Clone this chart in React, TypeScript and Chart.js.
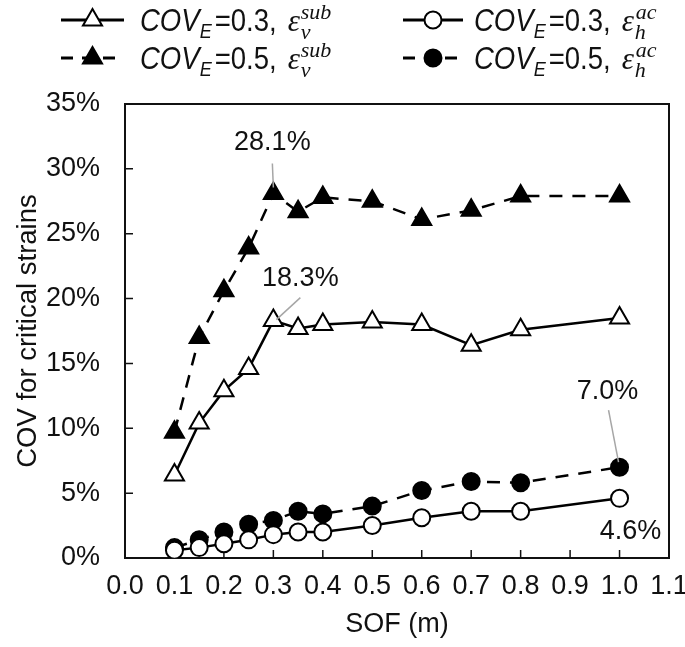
import React, { useEffect, useRef } from "react";
import { Chart, registerables } from "chart.js";
Chart.register(...registerables);

const sof = [0.1, 0.15, 0.2, 0.25, 0.3, 0.35, 0.4, 0.5, 0.6, 0.7, 0.8, 1.0];
const covV03 = [6.4, 10.4, 12.9, 14.6, 18.3, 17.7, 18.0, 18.2, 18.0, 16.4, 17.6, 18.5];
const covV05 = [9.7, 17.0, 20.6, 23.9, 28.1, 26.7, 27.8, 27.5, 26.1, 26.8, 27.9, 27.9];
const covH03 = [0.6, 0.8, 1.1, 1.4, 1.8, 2.0, 2.0, 2.5, 3.1, 3.6, 3.6, 4.6];
const covH05 = [0.8, 1.4, 2.0, 2.6, 2.9, 3.6, 3.4, 4.0, 5.2, 5.9, 5.8, 7.0];
const yTickValues = [0, 5, 10, 15, 20, 25, 30, 35];
const xTickValues = [0, 0.1, 0.2, 0.3, 0.4, 0.5, 0.6, 0.7, 0.8, 0.9, 1.0, 1.1];

const FONT = "'Liberation Sans', Arial, sans-serif";
const SERIF = "'Liberation Serif', 'DejaVu Serif', serif";

function drawMarker(ctx: CanvasRenderingContext2D, kind: string, filled: boolean, x: number, y: number, r: number) {
  ctx.beginPath();
  if (kind === "triangle") {
    let rad = 0;
    ctx.moveTo(x + Math.sin(rad) * r, y - Math.cos(rad) * r);
    rad += (2 * Math.PI) / 3;
    ctx.lineTo(x + Math.sin(rad) * r, y - Math.cos(rad) * r);
    rad += (2 * Math.PI) / 3;
    ctx.lineTo(x + Math.sin(rad) * r, y - Math.cos(rad) * r);
    ctx.closePath();
  } else {
    ctx.arc(x, y, r, 0, Math.PI * 2);
  }
  ctx.fillStyle = filled ? "#000" : "#fff";
  ctx.fill();
  ctx.lineWidth = 2;
  ctx.strokeStyle = "#000";
  ctx.stroke();
}

type Part = { t: string; font: string; dy: number; sx: number; dx?: number };

function drawRun(ctx: CanvasRenderingContext2D, x: number, y: number, parts: Part[]) {
  let cx = x;
  for (const p of parts) {
    ctx.save();
    ctx.font = p.font;
    ctx.textBaseline = "alphabetic";
    ctx.textAlign = "left";
    ctx.fillStyle = "#111";
    const w = ctx.measureText(p.t).width * p.sx;
    ctx.translate(cx + (p.dx || 0), y + p.dy);
    ctx.scale(p.sx, 1);
    ctx.fillText(p.t, 0, 0);
    ctx.restore();
    cx += w + (p.dx || 0);
  }
}

function legendParts(cov: string, sub: string, sup: string): Part[] {
  const sx = 0.86;
  return [
    { t: "COV", font: `italic 32px ${FONT}`, dy: 0, sx },
    { t: "E", font: `italic 21px ${FONT}`, dy: 7, sx },
    { t: "=" + cov + ",", font: `32px ${FONT}`, dy: 0, sx, dx: 3 },
    { t: "ε", font: `italic 31px ${SERIF}`, dy: 0, sx: 1, dx: 11 },
    { t: sub, font: `italic 22px ${SERIF}`, dy: 8, sx: 1, dx: 1 },
    { t: sup, font: `italic 22px ${SERIF}`, dy: -12, sx: 1, dx: -10 },
  ];
}

const legendPlugin = {
  id: "customLegend",
  afterDraw(chart: any) {
    const ctx: CanvasRenderingContext2D = chart.ctx;
    const rows = [
      { y: 20, items: [
        { x0: 61, x1: 124, dash: [] as number[], kind: "triangle", filled: false, tx: 140, cov: "0.3", sub: "v", sup: "sub" },
        { x0: 403, x1: 463, dash: [] as number[], kind: "circle", filled: false, tx: 474, cov: "0.3", sub: "h", sup: "ac" },
      ] },
      { y: 58, items: [
        { x0: 61, x1: 124, dash: [12, 9], kind: "triangle", filled: true, tx: 140, cov: "0.5", sub: "v", sup: "sub" },
        { x0: 403, x1: 463, dash: [12, 9], kind: "circle", filled: true, tx: 474, cov: "0.5", sub: "h", sup: "ac" },
      ] },
    ];
    ctx.save();
    for (const row of rows) {
      for (const it of row.items) {
        const mx = (it.x0 + it.x1) / 2;
        ctx.beginPath();
        ctx.setLineDash(it.dash);
        ctx.lineWidth = 3;
        ctx.strokeStyle = "#000";
        ctx.moveTo(it.x0, row.y);
        ctx.lineTo(it.x1, row.y);
        ctx.stroke();
        ctx.setLineDash([]);
        drawMarker(ctx, it.kind, it.filled, mx, row.y, it.kind === "triangle" ? 11 : 8.5);
        drawRun(ctx, it.tx, row.y + 11, legendParts(it.cov, it.sub, it.sup));
      }
    }
    ctx.restore();
  },
};

const framePlugin = {
  id: "frame",
  beforeDatasetsDraw(chart: any) {
    const ctx: CanvasRenderingContext2D = chart.ctx;
    const { left, right, top, bottom } = chart.chartArea;
    const xs = chart.scales.x;
    const ys = chart.scales.y;
    ctx.save();
    ctx.strokeStyle = "#111";
    ctx.lineWidth = 2;
    ctx.strokeRect(left, top, right - left, bottom - top);
    ctx.lineWidth = 1.5;
    ctx.beginPath();
    for (const v of xTickValues) {
      const px = xs.getPixelForValue(v);
      ctx.moveTo(px, bottom);
      ctx.lineTo(px, bottom - 8);
    }
    for (const v of yTickValues) {
      const py = ys.getPixelForValue(v);
      ctx.moveTo(left, py);
      ctx.lineTo(left + 8, py);
    }
    ctx.stroke();
    ctx.restore();
  },
};

const annotations = [
  { ds: 1, i: 4, text: "28.1%", tdx: -1, tdy: -51, l0: [-1, -30], l1: [0, -6] },
  { ds: 0, i: 4, text: "18.3%", tdx: 27, tdy: -42, l0: [27, -23], l1: [3, -1] },
  { ds: 3, i: 11, text: "7.0%", tdx: -12, tdy: -76, l0: [-11, -57], l1: [-1, -5] },
  { ds: 2, i: 11, text: "4.6%", tdx: 11, tdy: 33, l0: null as any, l1: null as any },
];

const annotationPlugin = {
  id: "annot",
  afterDatasetsDraw(chart: any) {
    const ctx: CanvasRenderingContext2D = chart.ctx;
    ctx.save();
    for (const a of annotations) {
      const ds = chart.data.datasets[a.ds];
      const pt = ds.data[a.i];
      const px = chart.scales.x.getPixelForValue(pt.x);
      const py = chart.scales.y.getPixelForValue(pt.y);
      if (a.l0) {
        ctx.beginPath();
        ctx.strokeStyle = "#a6a6a6";
        ctx.lineWidth = 1.5;
        ctx.moveTo(px + a.l0[0], py + a.l0[1]);
        ctx.lineTo(px + a.l1[0], py + a.l1[1]);
        ctx.stroke();
      }
      ctx.font = `27px ${FONT}`;
      ctx.fillStyle = "#111";
      ctx.textAlign = "center";
      ctx.textBaseline = "middle";
      ctx.fillText(a.text, px + a.tdx, py + a.tdy);
    }
    ctx.restore();
  },
};

function toPoints(ys: number[]) {
  return sof.map((x, i) => ({ x, y: ys[i] }));
}

export default function App() {
  const ref = useRef<HTMLCanvasElement>(null);
  useEffect(() => {
    const canvas = ref.current!;
    const common = {
      borderColor: "#000",
      borderWidth: 2.5,
      pointBorderColor: "#000",
      pointBorderWidth: 2,
      tension: 0,
    };
    const chart = new Chart(canvas, {
      type: "line",
      data: {
        datasets: [
          { ...common, label: "COV_E=0.3, ε_v^sub", data: toPoints(covV03), pointStyle: "triangle", pointRadius: 11, pointBackgroundColor: "#fff" },
          { ...common, label: "COV_E=0.5, ε_v^sub", data: toPoints(covV05), borderDash: [13, 10], pointStyle: "triangle", pointRadius: 11, pointBackgroundColor: "#000" },
          { ...common, label: "COV_E=0.3, ε_h^ac", data: toPoints(covH03), pointStyle: "circle", pointRadius: 8.5, pointBackgroundColor: "#fff" },
          { ...common, label: "COV_E=0.5, ε_h^ac", data: toPoints(covH05), borderDash: [13, 10], pointStyle: "circle", pointRadius: 8.5, pointBackgroundColor: "#000" },
        ],
      },
      options: {
        animation: false,
        responsive: true,
        maintainAspectRatio: false,
        layout: { padding: { left: 0, top: 104, right: 16, bottom: 0 } },
        plugins: {
          legend: { display: false },
          tooltip: { enabled: false },
        },
        scales: {
          x: {
            type: "linear",
            min: 0,
            max: 1.1,
            afterBuildTicks: (s: any) => {
              s.ticks = xTickValues.map((v) => ({ value: v }));
            },
            afterFit: (s: any) => {
              s.height = 89;
              s.paddingLeft = 0;
              s.paddingRight = 0;
            },
            grid: { display: false, drawTicks: false },
            border: { display: false },
            ticks: {
              color: "#111",
              font: { family: FONT, size: 27 },
              padding: 12,
              maxRotation: 0,
              autoSkip: false,
              callback: (v: any) => Number(v).toFixed(1),
            },
            title: {
              display: true,
              text: "SOF (m)",
              color: "#111",
              font: { family: FONT, size: 27 },
              padding: { top: 0, bottom: 6 },
            },
          },
          y: {
            type: "linear",
            min: 0,
            max: 35,
            afterBuildTicks: (s: any) => {
              s.ticks = yTickValues.map((v) => ({ value: v }));
            },
            afterFit: (s: any) => {
              s.width = 125;
              s.paddingTop = 0;
              s.paddingBottom = 0;
            },
            grid: { display: false, drawTicks: false },
            border: { display: false },
            ticks: {
              color: "#111",
              font: { family: FONT, size: 27 },
              padding: 25,
              autoSkip: false,
              callback: (v: any) => v + "%",
            },
            title: {
              display: true,
              text: "COV for critical strains",
              color: "#111",
              font: { family: FONT, size: 27.5 },
              padding: { top: 12, bottom: 0 },
            },
          },
        },
      },
      plugins: [framePlugin, annotationPlugin, legendPlugin],
    });
    return () => chart.destroy();
  }, []);
  return (
    <div style={{ position: "fixed", left: 0, top: 0, width: 685, height: 647, background: "#fff" }}>
      <canvas ref={ref} />
    </div>
  );
}
